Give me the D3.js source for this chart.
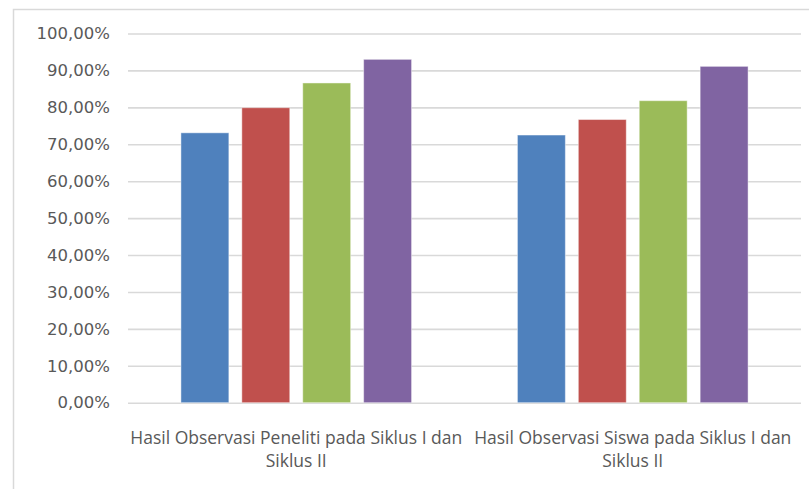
<!DOCTYPE html>
<html>
<head>
<meta charset="utf-8">
<script src="https://cdn.jsdelivr.net/npm/d3@7"></script>
<style>
  html, body { margin: 0; padding: 0; background: #ffffff; }
  svg { display: block; }
</style>
</head>
<body>
<svg id="chart" width="809" height="489"></svg>
<script>
// Category labels, split into the two lines shown under each group
const categories = [
  "Hasil Observasi Peneliti pada Siklus I dan Siklus II",
  "Hasil Observasi Siswa pada Siklus I dan Siklus II"
];
const categoryLines = [
  ["Hasil Observasi Peneliti pada Siklus I dan", "Siklus II"],
  ["Hasil Observasi Siswa pada Siklus I dan", "Siklus II"]
];

// Four series per group (fractions of 1)
const seriesKeys = ["Seri 1", "Seri 2", "Seri 3", "Seri 4"];
const seri1 = [0.731, 0.725];
const seri2 = [0.799, 0.767];
const seri3 = [0.866, 0.818];
const seri4 = [0.930, 0.911];
const seriesValues = [seri1, seri2, seri3, seri4];
const seriesColors = ["#4F81BD", "#C0504D", "#9BBB59", "#8064A2"];

// Y axis ticks and their labels
const yTicks = [0, 0.1, 0.2, 0.3, 0.4, 0.5, 0.6, 0.7, 0.8, 0.9, 1.0];
const yTickLabels = ["0,00%", "10,00%", "20,00%", "30,00%", "40,00%", "50,00%",
                     "60,00%", "70,00%", "80,00%", "90,00%", "100,00%"];

const svg = d3.select("#chart");
const W = 809, H = 489;
const plot = { left: 128, right: 801, top: 33.5, bottom: 402.7 };

// Chart-area frame
svg.append("rect")
  .attr("x", 13.5).attr("y", 9.5)
  .attr("width", W).attr("height", H)
  .attr("fill", "none")
  .attr("stroke", "#d9d9d9")
  .attr("stroke-width", 1.5);

const x0 = d3.scaleBand().domain(categories).range([plot.left, plot.right]);
const x1 = d3.scaleBand().domain(seriesKeys)
  .range([0, x0.bandwidth()])
  .paddingInner(0.213)
  .paddingOuter(0.869);
const y = d3.scaleLinear().domain([0, 1]).range([plot.bottom, plot.top]);

// Horizontal gridlines
svg.append("g")
  .attr("transform", `translate(${plot.left},0)`)
  .call(d3.axisLeft(y).tickValues(yTicks).tickSize(-(plot.right - plot.left)).tickFormat(""))
  .call(g => g.select(".domain").remove())
  .call(g => g.selectAll(".tick line").attr("stroke", "#d9d9d9").attr("stroke-width", 1.6));

// Y axis labels
svg.append("g")
  .attr("transform", `translate(${plot.left},0)`)
  .call(d3.axisLeft(y).tickValues(yTicks).tickSize(0).tickPadding(18)
    .tickFormat((d, i) => yTickLabels[i]))
  .call(g => g.select(".domain").remove())
  .call(g => g.selectAll(".tick text")
    .attr("fill", "#595959")
    .style("font-family", "'DejaVu Sans', sans-serif")
    .style("font-size", "16.5px"));

// Bars
const groups = svg.append("g").selectAll("g")
  .data(categories)
  .join("g")
  .attr("transform", d => `translate(${x0(d)},0)`);

groups.selectAll("rect")
  .data((c, ci) => seriesKeys.map((k, si) => ({ key: k, value: seriesValues[si][ci], color: seriesColors[si] })))
  .join("rect")
  .attr("x", d => x1(d.key))
  .attr("y", d => y(d.value))
  .attr("width", x1.bandwidth())
  .attr("height", d => y(0) - y(d.value))
  .attr("fill", d => d.color)
  .attr("stroke", "rgba(255,255,255,0.45)")
  .attr("stroke-width", 1);

// X axis category labels
const xAxis = svg.append("g")
  .attr("transform", `translate(0,${plot.bottom})`)
  .call(d3.axisBottom(x0).tickSize(0).tickFormat(""))
  .call(g => g.select(".domain").remove());

xAxis.selectAll(".tick").each(function (d, i) {
  const t = d3.select(this).append("text")
    .attr("fill", "#595959")
    .attr("text-anchor", "middle")
    .style("font-family", "'Open Sans', sans-serif")
    .style("font-size", "17.5px");
  categoryLines[i].forEach((line, li) => {
    t.append("tspan").attr("x", 0).attr("y", 41 + li * 23).text(line);
  });
});
</script>
</body>
</html>
